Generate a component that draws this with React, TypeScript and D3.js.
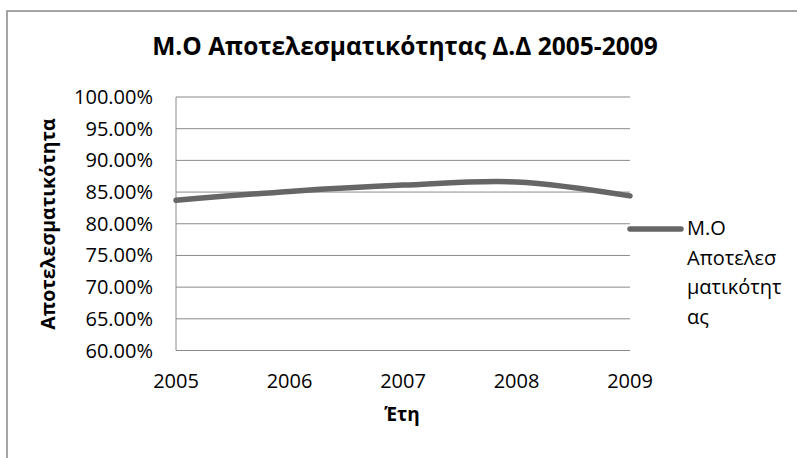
import * as d3 from 'd3';
import { useEffect, useRef } from 'react';

const years = ['2005', '2006', '2007', '2008', '2009'];
const efficiency = [0.837, 0.851, 0.861, 0.866, 0.844];
const yTicks = [0.6, 0.65, 0.7, 0.75, 0.8, 0.85, 0.9, 0.95, 1.0];
const legendLines = ['Μ.Ο', 'Αποτελεσ', 'ματικότητ', 'ας'];

const W = 797;
const H = 458;
const font = '"Open Sans", sans-serif';

export default function App() {
    const svgRef = useRef<SVGSVGElement>(null);

    useEffect(() => {
        const svg = d3.select(svgRef.current);
        svg.selectAll('*').remove();

        const plot = { left: 176, right: 630, top: 97, bottom: 350.5 };
        const x = d3.scalePoint().domain(years).range([plot.left, plot.right]);
        const y = d3.scaleLinear().domain([0.6, 1.0]).range([plot.bottom, plot.top]);

        svg.append('rect')
            .attr('width', W)
            .attr('height', H)
            .attr('fill', 'white');

        // chart frame (cropped at right/bottom in the original)
        svg.append('rect')
            .attr('x', 7)
            .attr('y', 11)
            .attr('width', W + 20)
            .attr('height', H + 20)
            .attr('fill', 'none')
            .attr('stroke', '#888')
            .attr('stroke-width', 1.5);

        svg.append('text')
            .attr('x', 405)
            .attr('y', 55)
            .attr('text-anchor', 'middle')
            .style('font-family', font)
            .style('font-size', '24.5px')
            .style('font-weight', '700')
            .text('Μ.Ο Αποτελεσματικότητας Δ.Δ 2005-2009');

        // gridlines
        svg.append('g')
            .selectAll('line')
            .data(yTicks)
            .enter()
            .append('line')
            .attr('x1', plot.left)
            .attr('x2', plot.right)
            .attr('y1', (d) => y(d))
            .attr('y2', (d) => y(d))
            .attr('stroke', '#8a8a8a')
            .attr('stroke-width', 1);

        svg.append('line')
            .attr('x1', plot.left)
            .attr('x2', plot.left)
            .attr('y1', plot.top)
            .attr('y2', plot.bottom)
            .attr('stroke', '#8a8a8a')
            .attr('stroke-width', 1);

        svg.append('g')
            .selectAll('text')
            .data(yTicks)
            .enter()
            .append('text')
            .attr('x', 153)
            .attr('y', (d) => y(d))
            .attr('dy', '0.35em')
            .attr('text-anchor', 'end')
            .style('font-family', font)
            .style('font-size', '20px')
            .text((d) => d3.format('.2%')(d));

        svg.append('g')
            .selectAll('text')
            .data(years)
            .enter()
            .append('text')
            .attr('x', (d) => x(d) || 0)
            .attr('y', 388)
            .attr('text-anchor', 'middle')
            .style('font-family', font)
            .style('font-size', '20px')
            .text((d) => d);

        svg.append('text')
            .attr('x', 402)
            .attr('y', 421)
            .attr('text-anchor', 'middle')
            .style('font-family', font)
            .style('font-size', '19px')
            .style('font-weight', '700')
            .text('Έτη');

        svg.append('text')
            .attr('transform', 'rotate(-90)')
            .attr('x', -224)
            .attr('y', 55)
            .attr('text-anchor', 'middle')
            .style('font-family', font)
            .style('font-size', '19.5px')
            .style('font-weight', '700')
            .text('Αποτελεσματικότητα');

        const line = d3.line<number>()
            .x((_, i) => x(years[i]) || 0)
            .y((d) => y(d))
            .curve(d3.curveCatmullRom);

        svg.append('path')
            .datum(efficiency)
            .attr('d', line)
            .attr('fill', 'none')
            .attr('stroke', '#666')
            .attr('stroke-width', 5.5)
            .attr('stroke-linecap', 'round');

        // legend
        svg.append('line')
            .attr('x1', 630)
            .attr('x2', 681)
            .attr('y1', 229)
            .attr('y2', 229)
            .attr('stroke', '#666')
            .attr('stroke-width', 5.5)
            .attr('stroke-linecap', 'round');

        svg.append('g')
            .selectAll('text')
            .data(legendLines)
            .enter()
            .append('text')
            .attr('x', 687)
            .attr('y', (_, i) => 235 + i * 29.7)
            .style('font-family', font)
            .style('font-size', '20px')
            .text((d) => d);
    }, []);

    return <svg ref={svgRef} width={W} height={H} style={{ position: 'absolute', left: 0, top: 0 }}></svg>;
}
